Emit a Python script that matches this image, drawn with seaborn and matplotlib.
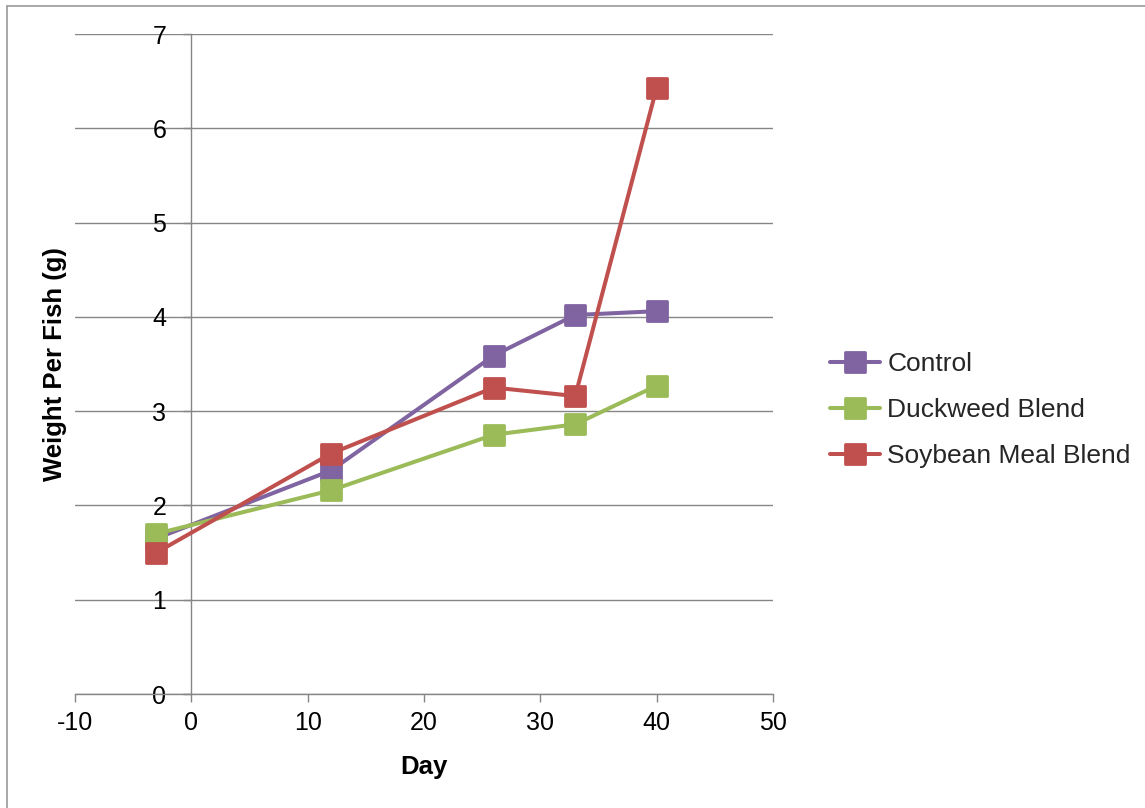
import matplotlib
matplotlib.use("Agg")
import matplotlib.pyplot as plt
from matplotlib.markers import MarkerStyle
from matplotlib.lines import Line2D
import pandas as pd
import seaborn as sns

# Sampling days and mean weight per fish (g) for each feed
days = [-3, 12, 26, 33, 40]
control = [1.65, 2.37, 3.59, 4.02, 4.06]
duckweed = [1.70, 2.16, 2.75, 2.86, 3.27]
soybean = [1.50, 2.55, 3.25, 3.16, 6.43]

series_names = ["Control", "Duckweed Blend", "Soybean Meal Blend"]
series_values = [control, duckweed, soybean]
colors = ["#8064A2", "#9BBB59", "#C0504D"]

x_ticks = [-10, 0, 10, 20, 30, 40, 50]
y_ticks = [0, 1, 2, 3, 4, 5, 6, 7]

df = pd.DataFrame({
    "Day": days * len(series_names),
    "Weight": [v for vals in series_values for v in vals],
    "Feed": [n for n in series_names for _ in days],
})

sns.set_theme(style="white")
plt.rcParams["font.family"] = ["Liberation Sans", "DejaVu Sans"]
plt.rcParams["axes.unicode_minus"] = False

W, H = 1145, 808
fig = plt.figure(figsize=(W / 100, H / 100), dpi=100)
ax = fig.add_axes([75 / W, 1 - 694 / H, 698 / W, 660 / H])

marker = MarkerStyle("s", joinstyle="round")
line_kw = dict(linewidth=2.9, marker=marker, markersize=14.5, markeredgewidth=2.0)
for name, color in zip(series_names, colors):
    sns.lineplot(data=df[df["Feed"] == name], x="Day", y="Weight", ax=ax,
                 color=color, markeredgecolor=color, markerfacecolor=color,
                 legend=False, zorder=3, **line_kw)

ax.set_xlim(-10, 50)
ax.set_ylim(0, 7)
ax.set_xticks(x_ticks)
ax.set_yticks(y_ticks)

grid_color = "#868686"
ax.yaxis.grid(True, color=grid_color, linewidth=1.0)
ax.xaxis.grid(False)
ax.set_axisbelow(True)

for side in ["top", "right"]:
    ax.spines[side].set_visible(False)
ax.spines["left"].set_position(("data", 0))
for side in ["left", "bottom"]:
    ax.spines[side].set_color(grid_color)
    ax.spines[side].set_linewidth(1.0)

ax.tick_params(axis="x", direction="out", length=6, width=1.0, color=grid_color,
               pad=6, labelsize=18, labelcolor="black", bottom=True)
ax.tick_params(axis="y", direction="out", length=6, width=1.0, color=grid_color,
               pad=12, labelsize=18, labelcolor="black", left=True)

ax.set_xlabel("Day", fontsize=18.5, fontweight="bold", color="black")
ax.set_ylabel("Weight Per Fish (g)", fontsize=18.5, fontweight="bold", color="black")
ax.xaxis.set_label_coords(0.5, -0.092)
ax.yaxis.set_label_coords(-0.012, 0.5)

handles = [Line2D([0], [0], color=c, markeredgecolor=c, markerfacecolor=c, **line_kw)
           for c in colors]
fig.legend(handles, series_names, loc="center left",
           bbox_to_anchor=(830 / W, 1 - 410 / H), frameon=False,
           fontsize=19, handlelength=1.9, handletextpad=0.27, labelspacing=0.84,
           borderaxespad=0, borderpad=0)

# Outer frame: only the top and left edges fall inside the canvas
frame_color = "#9A9A9A"
fig.add_artist(Line2D([6.5 / W, 1], [1 - 5.5 / H, 1 - 5.5 / H],
                      transform=fig.transFigure, color=frame_color, linewidth=1.2))
fig.add_artist(Line2D([6.5 / W, 6.5 / W], [0, 1 - 5.5 / H],
                      transform=fig.transFigure, color=frame_color, linewidth=1.2))

fig.savefig("out.png", dpi=100, facecolor="white")
